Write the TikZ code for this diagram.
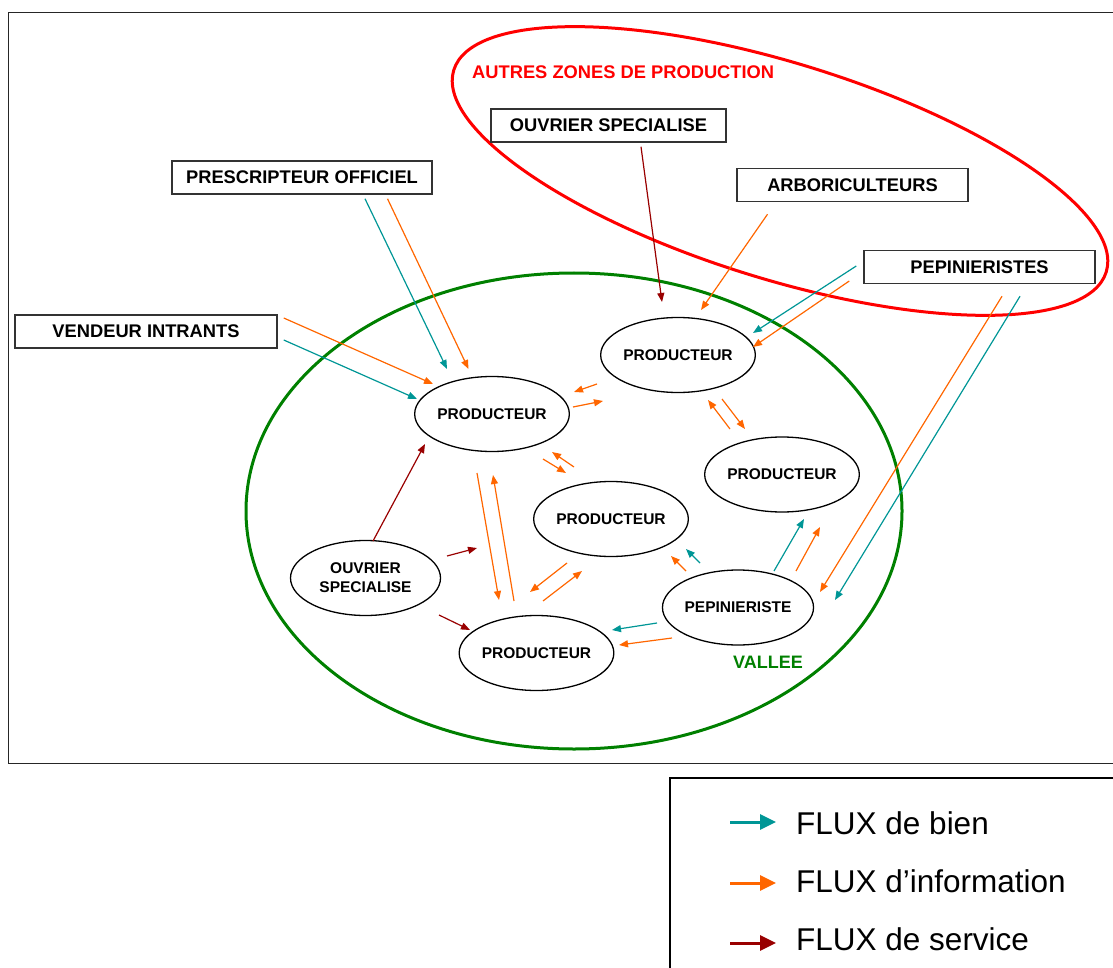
\documentclass[tikz,border=0pt]{standalone}
\usepackage{fontspec}
\setmainfont{Liberation Sans}
\usetikzlibrary{shapes.geometric,arrows.meta}

\definecolor{bleuvert}{RGB}{0,150,150}
\definecolor{orangeinfo}{RGB}{255,102,0}
\definecolor{rougeservice}{RGB}{153,0,0}
\definecolor{vertvallee}{RGB}{0,128,0}

\tikzset{
  acteur/.style={draw=black!80, line width=1.5pt, fill=white, minimum height=33pt, inner sep=0pt,
    font=\bfseries\fontsize{18.3}{20}\selectfont},
  producteur/.style={draw, ellipse, line width=1.3pt, minimum width=150pt, minimum height=75pt,
    inner sep=0pt, align=center, font=\bfseries\fontsize{15.5}{19}\selectfont},
  flux/.style={line width=1.2pt, ->, >={Triangle[length=9pt,width=7pt]}},
  bien/.style={flux, bleuvert},
  info/.style={flux, orangeinfo},
  service/.style={flux, rougeservice},
  legende/.style={anchor=base west, inner sep=0pt, font=\fontsize{31.5}{36}\selectfont},
  flecheleg/.style={line width=3pt, -{Triangle[length=16pt,width=15pt]}, shorten >=20pt},
}

\begin{document}
\begin{tikzpicture}[x=1pt,y=-1pt]
\useasboundingbox (0,0) rectangle (1113,968);

% cadres
\draw[line width=1pt, black!85] (1113,13) -- (8,13) -- (8,763.5) -- (1113,763.5);
\draw[line width=2pt] (670,968) -- (670,778) -- (1113,778);

% zones
\node[draw=red, line width=3pt, ellipse, minimum width=683pt, minimum height=216pt,
  inner sep=0pt, rotate=-17.2] (zones) at (780,171) {};
\node[draw=vertvallee, line width=3pt, ellipse, minimum width=656pt, minimum height=476pt,
  inner sep=0pt] (vallee) at (574,511) {};
\node[anchor=west, inner sep=0pt, red, font=\bfseries\fontsize{18.3}{20}\selectfont] (lbzones) at (472,72.5) {AUTRES ZONES DE PRODUCTION};
\node[inner sep=0pt, vertvallee, font=\bfseries\fontsize{18}{20}\selectfont] (lbvallee) at (768,662) {VALLEE};

% acteurs exterieurs
\node[acteur, minimum width=260pt] (pres) at (302,177.5) {PRESCRIPTEUR OFFICIEL};
\node[acteur, minimum width=262pt] (vend) at (146,331.5) {VENDEUR INTRANTS};
\node[acteur, minimum width=235pt] (ouvext) at (608.5,125.5) {OUVRIER SPECIALISE};
\node[acteur, minimum width=231pt] (arbo) at (852.5,185) {ARBORICULTEURS};
\node[acteur, minimum width=231pt] (pepext) at (979.5,267) {PEPINIERISTES};

% acteurs de la vallee
\node[producteur] (prod1) at (492,414) {PRODUCTEUR};
\node[producteur] (prod2) at (678,355) {PRODUCTEUR};
\node[producteur] (prod3) at (611,519) {PRODUCTEUR};
\node[producteur] (prod4) at (536.5,653) {PRODUCTEUR};
\node[producteur] (prod5) at (782,474.5) {PRODUCTEUR};
\node[producteur] (ouv) at (365.5,578) {OUVRIER\\SPECIALISE};
\node[producteur] (pep) at (738,607.5) {PEPINIERISTE};

% flux venant de l'exterieur
\draw[bien] ([shift={(63,4)}]pres.south) -- ([shift={(-45,-45)}]prod1.center);
\draw[info] ([shift={(85.5,4)}]pres.south) -- ([shift={(-23.5,-45)}]prod1.center);
\draw[info] ([shift={(6,-13.5)}]vend.east) -- ([shift={(-59,-30)}]prod1.center);
\draw[bien] ([shift={(6,8.5)}]vend.east) -- ([shift={(-75,-15)}]prod1.center);
\draw[service] ([shift={(32.5,4)}]ouvext.south) -- ([shift={(-16,-53)}]prod2.center);
\draw[info] ([shift={(-85,12)}]arbo.south) -- ([shift={(23,-45)}]prod2.center);
\draw[bien] ([shift={(-7,-1)}]pepext.west) -- ([shift={(75,-22)}]prod2.center);
\draw[info] ([shift={(-14,14)}]pepext.west) -- ([shift={(75,-8)}]prod2.center);
\draw[info] ([shift={(22.5,12)}]pepext.south) -- ([shift={(82,-15.5)}]pep.center);
\draw[bien] ([shift={(40.5,12)}]pepext.south) -- ([shift={(97,-7.5)}]pep.center);

% flux dans la vallee
\draw[info] ([shift={(-81,29)}]prod2.center) -- ([shift={(82,-22)}]prod1.center);
\draw[info] ([shift={(81,-7)}]prod1.center) -- ([shift={(-75,46)}]prod2.center);
\draw[info] ([shift={(-37,-52)}]prod3.center) -- ([shift={(60,38)}]prod1.center);
\draw[info] ([shift={(51,45)}]prod1.center) -- ([shift={(-45,-46)}]prod3.center);
\draw[info] ([shift={(-15,59)}]prod1.center) -- ([shift={(-37.5,-53)}]prod4.center);
\draw[info] ([shift={(-22.5,-52)}]prod4.center) -- ([shift={(1,61)}]prod1.center);
\draw[service] ([shift={(7.5,-37)}]ouv.center) -- ([shift={(-67,30)}]prod1.center);
\draw[service] ([shift={(81.5,-22)}]ouv.center) -- ([shift={(-134,29)}]prod3.center);
\draw[service] ([shift={(73.5,37)}]ouv.center) -- ([shift={(-66.5,-23)}]prod4.center);
\draw[info] ([shift={(-44,44)}]prod3.center) -- ([shift={(-6.5,-61)}]prod4.center);
\draw[info] ([shift={(6.5,-52)}]prod4.center) -- ([shift={(-29,52)}]prod3.center);
\draw[bien] ([shift={(-81,15.5)}]pep.center) -- ([shift={(75.5,-23)}]prod4.center);
\draw[info] ([shift={(-66,30.5)}]pep.center) -- ([shift={(82.5,-8)}]prod4.center);
\draw[info] ([shift={(-52,-45.5)}]prod5.center) -- ([shift={(30,45)}]prod2.center);
\draw[info] ([shift={(44,44)}]prod2.center) -- ([shift={(-37,-45.5)}]prod5.center);
\draw[info] ([shift={(-52,-36.5)}]pep.center) -- ([shift={(60,37)}]prod3.center);
\draw[bien] ([shift={(-38,-44.5)}]pep.center) -- ([shift={(75,30)}]prod3.center);
\draw[bien] ([shift={(36,-36.5)}]pep.center) -- ([shift={(22,44.5)}]prod5.center);
\draw[info] ([shift={(58,-36.5)}]pep.center) -- ([shift={(38,52.5)}]prod5.center);

% legende
\node[legende] (tbien) at (796,834) {FLUX de bien};
\node[legende] (tinfo) at (796,892) {FLUX d’information};
\node[legende] (tservice) at (796,950) {FLUX de service};
\coordinate (lgbien) at (730,822);
\coordinate (lginfo) at (730,883);
\coordinate (lgservice) at (730,943);
\draw[flecheleg, bleuvert] (lgbien) -- (lgbien -| tbien.west);
\draw[flecheleg, orangeinfo] (lginfo) -- (lginfo -| tinfo.west);
\draw[flecheleg, rougeservice] (lgservice) -- (lgservice -| tservice.west);
\end{tikzpicture}
\end{document}
